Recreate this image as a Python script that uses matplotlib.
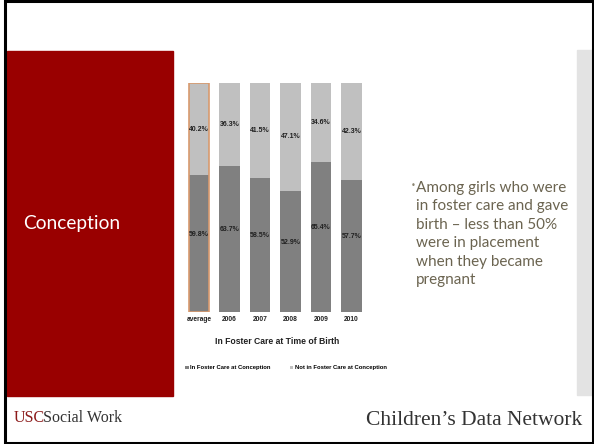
import matplotlib
matplotlib.use("Agg")
import matplotlib.pyplot as plt
from matplotlib.patches import Rectangle

years = ["average", "2006", "2007", "2008", "2009", "2010"]
in_care = [59.8, 63.7, 58.5, 52.9, 65.4, 57.7]
not_in_care = [40.2, 36.3, 41.5, 47.1, 34.6, 42.3]
series_names = ["In Foster Care at Conception", "Not in Foster Care at Conception"]
xlabel = "In Foster Care at Time of Birth"
section = "Conception"
bullet = ("Among girls who were\nin foster care and gave\nbirth \u2013 less than 50%\n"
          "were in placement\nwhen they became\npregnant")

W, H = 594, 444
fig = plt.figure(figsize=(W / 100, H / 100), dpi=100)


def box(x0, y0, x1, y1):
    # pixel box (top-left origin) -> figure fraction rect
    return [x0 / W, 1 - y1 / H, (x1 - x0) / W, (y1 - y0) / H]


# slide decorations
fig.patches.append(Rectangle((7 / W, 1 - 396 / H), 166 / W, 345 / H,
                             transform=fig.transFigure, color="#990000", zorder=0))
fig.patches.append(Rectangle((577 / W, 1 - 395 / H), 15 / W, 345 / H,
                             transform=fig.transFigure, color="#e3e3e3", zorder=0))
fig.patches.append(Rectangle((5 / W, 1.5 / H), 588 / W, 441 / H, transform=fig.transFigure,
                             fill=False, edgecolor="black", linewidth=2.2, zorder=5))
fig.text(23 / W, 1 - 223 / H, section, color="white", fontsize=13.8,
         family="Lato", va="center", ha="left")

# stacked bars
ax = fig.add_axes(box(183, 83, 368, 312))
x = list(range(len(years)))
dark, light = "#808080", "#c0c0c0"
b1 = ax.bar(x, in_care, width=0.66, color=dark, label=series_names[0])
b2 = ax.bar(x, not_in_care, width=0.66, bottom=in_care, color=light, label=series_names[1])
# highlight the average column
ax.bar(0, 100, width=0.66, fill=False, edgecolor="#d89a6e", linewidth=1.2)
for i in x:
    ax.text(i, in_care[i] / 2 + 4, f"{in_care[i]:.1f}%", ha="center", va="center",
            fontsize=5, fontweight="bold", color="#202020", family="Liberation Sans")
    ax.text(i, in_care[i] + not_in_care[i] / 2, f"{not_in_care[i]:.1f}%", ha="center",
            va="center", fontsize=5, fontweight="bold", color="#202020",
            family="Liberation Sans")
ax.set_xlim(-0.525, 5.54)
ax.set_ylim(0, 100)
ax.set_xticks(x)
ax.set_xticklabels(years, fontsize=4.8, fontweight="bold", family="Liberation Sans",
                   color="#202020")
ax.tick_params(axis="x", length=0, pad=3)
ax.set_yticks([])
for s in ax.spines.values():
    s.set_visible(False)
fig.text(277 / W, 1 - 341 / H, xlabel, ha="center", va="center", fontsize=6.2,
         fontweight="bold", family="Liberation Sans", color="#202020")
fig.legend(handles=[b1, b2], labels=series_names, loc="center left",
           bbox_to_anchor=(180 / W, 1 - 368 / H), ncol=2, frameon=False,
           prop={"family": "Liberation Sans", "weight": "bold", "size": 4.2},
           handlelength=0.6, handleheight=0.6, handletextpad=0.3, columnspacing=3.2)

# bullet text
fig.text(411 / W, 1 - 181 / H, "\u2022", color="#8a8470", fontsize=6, va="top", ha="left")
fig.text(416 / W, 1 - 181 / H, bullet, color="#6b6450", fontsize=11, family="Lato",
         va="top", ha="left", linespacing=1.4)

# footer logos
fig.text(14 / W, 1 - 418 / H, "USC", color="#8c1a1a", fontsize=11.5, family="Liberation Serif",
         va="center", ha="left")
fig.text(43 / W, 1 - 418 / H, "Social Work", color="#333333", fontsize=11.5,
         family="Liberation Serif", va="center", ha="left")
fig.text(582 / W, 1 - 420 / H, "Children\u2019s Data Network", color="#333333", fontsize=15.5,
         family="Liberation Serif", va="center", ha="right")

fig.savefig("out.png", dpi=100)
